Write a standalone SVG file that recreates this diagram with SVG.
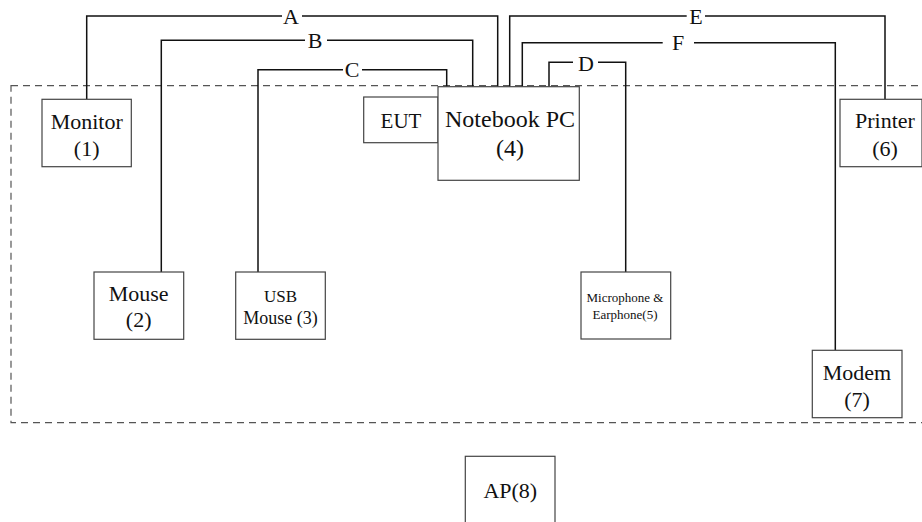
<svg xmlns="http://www.w3.org/2000/svg" width="922" height="522" viewBox="0 0 922 522">
<style>
.box{fill:#fff;stroke:#444;stroke-width:1.2}
.t{font-family:"Liberation Serif","Times New Roman",serif;fill:#111;text-anchor:middle}
.c{fill:none;stroke:#111;stroke-width:1.5}
.lbl{font-family:"Liberation Serif","Times New Roman",serif;font-size:22px;fill:#111;text-anchor:middle}
</style>
<rect width="922" height="522" fill="#fff"/>
<rect id="boundary" x="11" y="85.7" width="920" height="337" fill="none" stroke="#555" stroke-width="1.2" stroke-dasharray="7,5"/>
<g id="connectors">
<path class="c" d="M86.7,99 V16 H282 M302,16 H497.7 V86.7"/>
<path class="c" d="M161.3,272 V40.3 H305 M327,40.3 H472.7 V86.7"/>
<path class="c" d="M258,272 V69.7 H343 M362,69.7 H446.7 V86.7"/>
<path class="c" d="M549,86.7 V62.3 H573 M598,62.3 H625.7 V272"/>
<path class="c" d="M509.7,86.7 V16 H686.7 M705,16 H885 V99.3"/>
<path class="c" d="M522.3,86.7 V42.7 H662.7 M694,42.7 H835.3 V350.3"/>
<text class="lbl" x="291" y="24">A</text>
<text class="lbl" x="315" y="48">B</text>
<text class="lbl" x="352" y="77">C</text>
<text class="lbl" x="586" y="71">D</text>
<text class="lbl" x="696" y="24">E</text>
<text class="lbl" x="678" y="50">F</text>
</g>
<g id="monitor">
<rect class="box" x="42" y="99.3" width="89.3" height="67.4"/>
<text class="t" x="86.7" y="129" font-size="22">Monitor</text>
<text class="t" x="86.7" y="156" font-size="22">(1)</text>
</g>
<g id="eut">
<rect class="box" x="363.7" y="97" width="74.3" height="45.7"/>
<text class="t" x="401" y="128.3" font-size="21">EUT</text>
</g>
<g id="notebook">
<rect class="box" x="438" y="86.7" width="141.3" height="93.6" stroke="#111"/>
<text class="t" x="510" y="127.3" font-size="24">Notebook PC</text>
<text class="t" x="510" y="156" font-size="24">(4)</text>
</g>
<g id="printer">
<rect class="box" x="840" y="99.3" width="82" height="67.4"/>
<text class="t" x="885" y="127.7" font-size="22">Printer</text>
<text class="t" x="885" y="156" font-size="22">(6)</text>
</g>
<g id="mouse">
<rect class="box" x="94" y="272" width="89.7" height="67.3"/>
<text class="t" x="138.7" y="300.7" font-size="22">Mouse</text>
<text class="t" x="138.7" y="326.7" font-size="22">(2)</text>
</g>
<g id="usbmouse">
<rect class="box" x="235.7" y="272" width="89.6" height="67.3"/>
<text class="t" x="280.5" y="301.7" font-size="17">USB</text>
<text class="t" x="280.5" y="324" font-size="18">Mouse (3)</text>
</g>
<g id="mic">
<rect class="box" x="581" y="272" width="89.7" height="67"/>
<text class="t" x="625" y="302.3" font-size="13">Microphone &amp;</text>
<text class="t" x="625" y="319" font-size="13">Earphone(5)</text>
</g>
<g id="modem">
<rect class="box" x="812.3" y="350.3" width="89.7" height="67.4"/>
<text class="t" x="857" y="380" font-size="22">Modem</text>
<text class="t" x="857" y="406.5" font-size="22">(7)</text>
</g>
<g id="ap">
<rect class="box" x="465.3" y="456.3" width="89.7" height="80"/>
<text class="t" x="510.3" y="498.3" font-size="22">AP(8)</text>
</g>
</svg>
